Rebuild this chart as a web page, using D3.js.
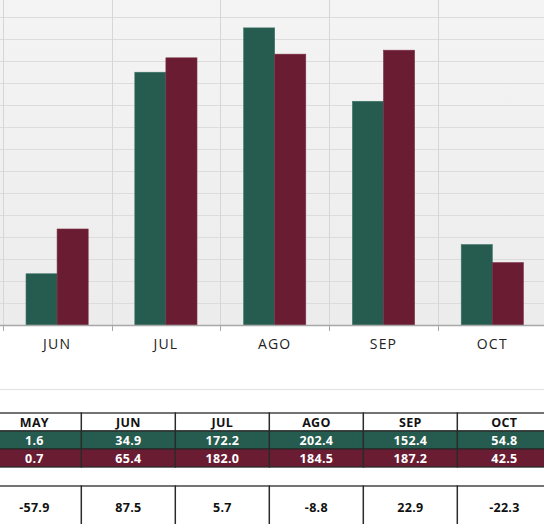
<!DOCTYPE html>
<html>
<head>
<meta charset="utf-8">
<script src="https://cdn.jsdelivr.net/npm/d3@7"></script>
<style>
  body { margin: 0; background: #fff; }
  svg { display: block; font-family: "Open Sans", "Noto Sans", sans-serif; }
</style>
</head>
<body>
<div id="chart"></div>
<script>
// Data
const months = ['MAY', 'JUN', 'JUL', 'AGO', 'SEP', 'OCT'];
const series = ['s1', 's2'];
const serie1 = [1.6, 34.9, 172.2, 202.4, 152.4, 54.8];
const serie2 = [0.7, 65.4, 182.0, 184.5, 187.2, 42.5];
const variacion = ['-57.9', '87.5', '5.7', '-8.8', '22.9', '-22.3'];
const yTicks = d3.range(0, 226, 15);

const colors = { s1: '#265c4f', s2: '#691c32' };

const W = 544, H = 524;
const baseY = 325;

const svg = d3.select('#chart').append('svg')
  .attr('width', W)
  .attr('height', H);

// Scales (chart is seen cropped: MAY band sits off the left edge)
const x = d3.scaleBand()
  .domain(months)
  .range([-106.1, 546.7])
  .padding(0);

const x1 = d3.scaleBand()
  .domain(series)
  .range([0, x.bandwidth()])
  .paddingInner(0)
  .paddingOuter(0.75);

const y = d3.scaleLinear()
  .domain([0, 225])
  .range([baseY, baseY - 225 * 1.468]);

// Plot background
const defs = svg.append('defs');
const grad = defs.append('linearGradient')
  .attr('id', 'bg').attr('x1', 0).attr('y1', 0).attr('x2', 0).attr('y2', 1);
grad.append('stop').attr('offset', '0%').attr('stop-color', '#f4f4f4');
grad.append('stop').attr('offset', '100%').attr('stop-color', '#ececec');

svg.append('rect')
  .attr('x', x.range()[0])
  .attr('y', y(225))
  .attr('width', x.range()[1] - x.range()[0])
  .attr('height', baseY - y(225))
  .attr('fill', 'url(#bg)');

// Horizontal gridlines
svg.append('g')
  .selectAll('line')
  .data(yTicks.slice(1))
  .join('line')
  .attr('x1', x.range()[0]).attr('x2', x.range()[1])
  .attr('y1', d => Math.round(y(d)) + 0.5)
  .attr('y2', d => Math.round(y(d)) + 0.5)
  .attr('stroke', '#dcdcdc')
  .attr('stroke-width', 1);

// Vertical gridlines at band boundaries
svg.append('g')
  .selectAll('line')
  .data(months.slice(1))
  .join('line')
  .attr('x1', d => Math.round(x(d)) + 0.5)
  .attr('x2', d => Math.round(x(d)) + 0.5)
  .attr('y1', y(225)).attr('y2', baseY)
  .attr('stroke', '#d6d6d6')
  .attr('stroke-width', 1);

// Bars
const values = { s1: serie1, s2: serie2 };
const groups = svg.append('g')
  .selectAll('g')
  .data(months)
  .join('g')
  .attr('transform', d => `translate(${x(d)},0)`);

groups.selectAll('rect')
  .data((m, i) => series.map(s => ({ s, v: values[s][i] })))
  .join('rect')
  .attr('x', d => x1(d.s))
  .attr('y', d => y(d.v))
  .attr('width', x1.bandwidth())
  .attr('height', d => baseY - y(d.v))
  .attr('fill', d => colors[d.s])
  .attr('stroke', d => d.s === 's1' ? '#3f7467' : '#7c3046')
  .attr('stroke-width', 0.6);

// Baseline + ticks
svg.append('line')
  .attr('x1', x.range()[0]).attr('x2', x.range()[1])
  .attr('y1', baseY + 0.5).attr('y2', baseY + 0.5)
  .attr('stroke', '#a8a8a8')
  .attr('stroke-width', 1.5);

svg.append('g')
  .selectAll('line')
  .data(months.slice(1))
  .join('line')
  .attr('x1', d => Math.round(x(d)) + 0.5)
  .attr('x2', d => Math.round(x(d)) + 0.5)
  .attr('y1', baseY).attr('y2', baseY + 6)
  .attr('stroke', '#a8a8a8')
  .attr('stroke-width', 1);

// Axis labels (MAY label lies outside the visible crop)
const xAxis = svg.append('g')
  .attr('transform', `translate(0,${baseY})`)
  .call(d3.axisBottom(x).tickValues(months.slice(1)).tickSize(0).tickPadding(14));
xAxis.select('.domain').remove();
xAxis.selectAll('text')
  .attr('font-size', 14)
  .attr('font-family', '"Open Sans", sans-serif')
  .attr('fill', '#222')
  .attr('letter-spacing', 1.2);

// Separator line
svg.append('line')
  .attr('x1', 0).attr('x2', W)
  .attr('y1', 389.5).attr('y2', 389.5)
  .attr('stroke', '#e2e2e2')
  .attr('stroke-width', 1);

// Data table
const colX = d3.scaleBand()
  .domain(months)
  .range([-12.6, -12.6 + 94 * months.length]);

const rows = [
  { top: 413, h: 18, fill: '#fff', text: '#111', vals: months },
  { top: 431, h: 18, fill: colors.s1, text: '#fff', vals: serie1.map(v => v.toFixed(1)) },
  { top: 449, h: 18, fill: colors.s2, text: '#fff', vals: serie2.map(v => v.toFixed(1)) },
  { top: 486, h: 42, fill: '#fff', text: '#111', vals: variacion, textY: 507 }
];

rows.forEach(r => {
  const g = svg.append('g');
  g.selectAll('rect')
    .data(months)
    .join('rect')
    .attr('x', d => colX(d))
    .attr('y', r.top)
    .attr('width', colX.bandwidth())
    .attr('height', r.h)
    .attr('fill', r.fill)
    .attr('stroke', '#2a2a2a')
    .attr('stroke-width', 1.3);
  g.selectAll('text')
    .data(r.vals)
    .join('text')
    .attr('x', (d, i) => colX(months[i]) + colX.bandwidth() / 2)
    .attr('y', r.textY || r.top + r.h / 2)
    .attr('dy', '0.36em')
    .attr('text-anchor', 'middle')
    .attr('font-size', 12.5)
    .attr('font-weight', 'bold')
    .attr('letter-spacing', 0.3)
    .attr('fill', r.text)
    .text(d => d);
});
</script>
</body>
</html>
